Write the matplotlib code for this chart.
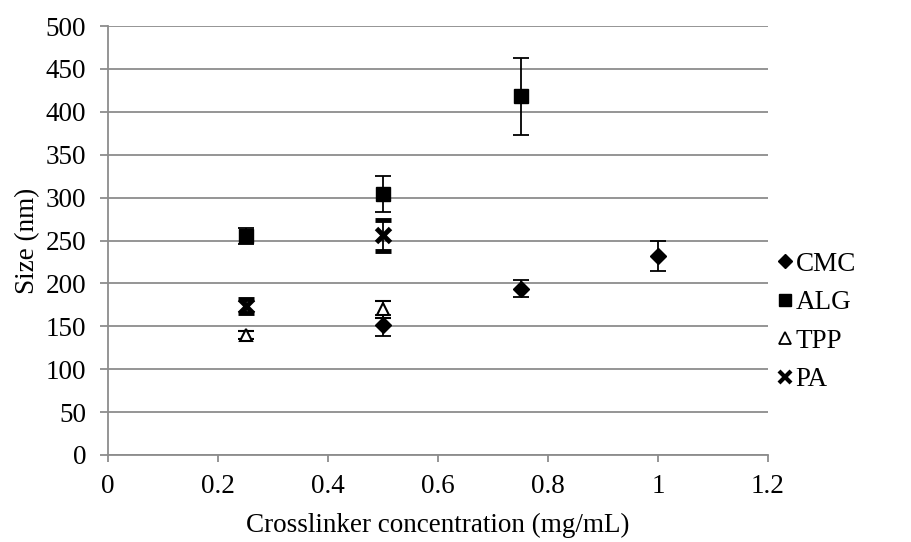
import matplotlib
matplotlib.use("Agg")
import matplotlib.pyplot as plt
from matplotlib.lines import Line2D

plt.rcParams['font.family'] = ['Liberation Serif', 'DejaVu Serif']

cmc_x = [0.5, 0.75, 1.0]
cmc_y = [151, 194, 232]
cmc_err = [12, 10, 17]

alg_x = [0.25, 0.5, 0.75]
alg_y = [255, 304, 418]
alg_err = [9, 21, 45]

tpp_x = [0.25, 0.5]
tpp_y = [140, 170]
tpp_err = [5, 10]

pa_x = [0.25, 0.5]
pa_y = [174, 256]
pa_err = [8, 18]

labels = ['CMC', 'ALG', 'TPP', 'PA']

FS = 19.5

fig = plt.figure(figsize=(9.11, 5.42), dpi=100)
ax = fig.add_axes([108/911, 1-455/542, (768-108)/911, (455-26)/542])

ekw = dict(ls='none', ecolor='black', elinewidth=1.3, capsize=6, capthick=1.3, zorder=3)
ax.errorbar(cmc_x, cmc_y, yerr=cmc_err, marker='D', ms=8, mfc='black', mec='black', **ekw)
ax.errorbar(alg_x, alg_y, yerr=alg_err, marker='s', ms=10, mfc='black', mec='black', **ekw)
ax.errorbar(tpp_x, tpp_y, yerr=tpp_err, marker='^', ms=9, mfc='white', mec='black', mew=1.5, **ekw)
ax.errorbar(pa_x, pa_y, yerr=pa_err, marker='x', ms=10, mec='black', mew=3.5, **ekw)

ax.set_xlim(0, 1.2)
ax.set_ylim(0, 500)
ax.set_xticks([0, 0.2, 0.4, 0.6, 0.8, 1.0, 1.2])
ax.set_xticklabels(['0', '0.2', '0.4', '0.6', '0.8', '1', '1.2'])
ax.set_yticks(range(0, 501, 50))
ax.yaxis.grid(True, color='#8c8c8c', lw=1.3)
ax.set_axisbelow(True)
for s in ['top', 'right']:
    ax.spines[s].set_visible(False)
for s in ['left', 'bottom']:
    ax.spines[s].set_color('#8c8c8c')
    ax.spines[s].set_linewidth(1.3)
ax.tick_params(axis='both', colors='#8c8c8c', labelcolor='black', labelsize=FS, width=1.3)
ax.tick_params(axis='y', length=5.8, pad=10)
ax.tick_params(axis='x', length=5, pad=9)
ax.set_xlabel('Crosslinker concentration (mg/mL)', fontsize=FS, labelpad=10)
ax.set_ylabel('Size (nm)', fontsize=FS, labelpad=4)

handles = [
    Line2D([], [], ls='none', marker='D', ms=7, mfc='black', mec='black'),
    Line2D([], [], ls='none', marker='s', ms=9, mfc='black', mec='black'),
    Line2D([], [], ls='none', marker='^', ms=8, mfc='white', mec='black', mew=1.3),
    Line2D([], [], ls='none', marker='x', ms=8, mec='black', mew=3),
]
fig.legend(handles, labels, loc='center left', bbox_to_anchor=(767/911, 1-322/542),
           frameon=False, fontsize=FS, handlelength=0.5, handletextpad=0.15,
           labelspacing=0.5, borderaxespad=0)

fig.savefig('out.png', dpi=100)
